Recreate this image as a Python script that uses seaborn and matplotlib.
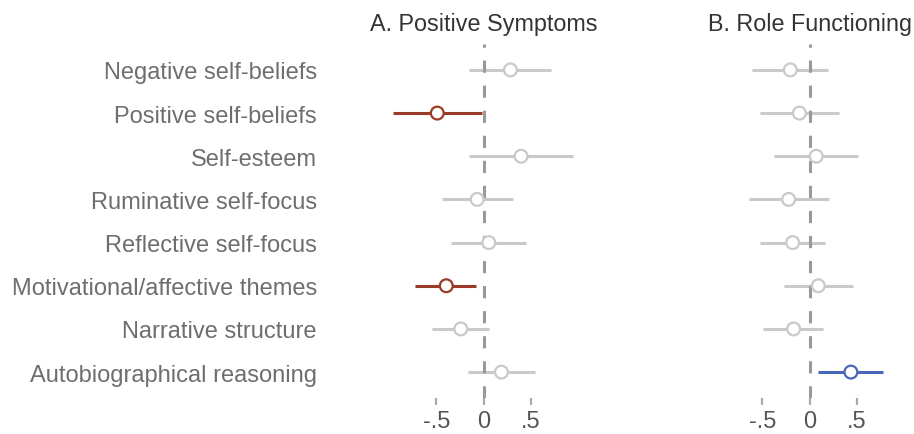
import matplotlib
matplotlib.use("Agg")
import matplotlib.pyplot as plt
import numpy as np
import pandas as pd
import seaborn as sns

# ---------------------------------------------------------------------------
# Data
# ---------------------------------------------------------------------------

predictors = [
    "Negative self-beliefs",
    "Positive self-beliefs",
    "Self-esteem",
    "Ruminative self-focus",
    "Reflective self-focus",
    "Motivational/affective themes",
    "Narrative structure",
    "Autobiographical reasoning",
]

# A. Positive Symptoms
pos_est = [0.285, -0.489, 0.398, -0.067, 0.056, -0.394, -0.240, 0.190]
pos_lo = [-0.155, -0.958, -0.155, -0.440, -0.340, -0.720, -0.549, -0.169]
pos_hi = [0.715, -0.018, 0.943, 0.310, 0.454, -0.077, 0.063, 0.542]
pos_sig = ["ns", "neg", "ns", "ns", "ns", "neg", "ns", "ns"]

# B. Role Functioning
role_est = [-0.203, -0.107, 0.071, -0.221, -0.178, 0.093, -0.168, 0.438]
role_lo = [-0.605, -0.523, -0.374, -0.637, -0.520, -0.274, -0.488, 0.089]
role_hi = [0.200, 0.313, 0.509, 0.206, 0.163, 0.462, 0.139, 0.776]
role_sig = ["ns", "ns", "ns", "ns", "ns", "ns", "ns", "pos"]

tick_vals = [-0.5, 0, 0.5]
tick_text = ["-.5", "0", ".5"]

sig_colors = {"ns": "#c9c9c9", "neg": "#9b3a26", "pos": "#4a66b8"}

# ---------------------------------------------------------------------------
# Figure
# ---------------------------------------------------------------------------

sns.set_style("white")
plt.rcParams["font.family"] = ["Liberation Sans", "DejaVu Sans"]

fig = plt.figure(figsize=(9.14, 4.35), dpi=100)
ax_a = fig.add_axes([389 / 914, 36 / 435, 189 / 914, 354 / 435])
ax_b = fig.add_axes([715 / 914, 36 / 435, 189 / 914, 354 / 435])

panels = [
    (ax_a, "A. Positive Symptoms", pos_est, pos_lo, pos_hi, pos_sig),
    (ax_b, "B. Role Functioning", role_est, role_lo, role_hi, role_sig),
]

for ax, title, est, lo, hi, sig in panels:
    df = pd.DataFrame({
        "predictor": predictors,
        "pos": np.arange(len(predictors)),
        "est": est,
        "lo": lo,
        "hi": hi,
        "sig": sig,
    })
    cols = [sig_colors[s] for s in df["sig"]]

    # confidence intervals
    ax.hlines(df["pos"], df["lo"], df["hi"], colors=cols, linewidth=2.2, zorder=2)

    # reference line at zero, drawn over the intervals
    ax.axvline(0, color="#999999", linewidth=2.2, dashes=(4, 4.2), zorder=3)

    # point estimates: hollow circles
    sns.scatterplot(data=df, x="est", y="pos", ax=ax, s=85, color="white",
                    edgecolor=cols, linewidth=1.6, zorder=4, legend=False)

    ax.set_xlim(-1, 1)
    ax.set_ylim(len(predictors) - 0.4, -0.6)
    ax.set_xticks(tick_vals)
    ax.set_xticklabels(tick_text)
    ax.set_xlabel("")
    ax.set_ylabel("")
    ax.set_title(title, fontsize=16.8, color="#333333", pad=10)
    sns.despine(ax=ax, left=True, bottom=True)
    ax.tick_params(axis="x", length=5, width=1.6, color="#aaaaaa",
                   labelsize=17, labelcolor="#555555", pad=4, bottom=True)

ax_a.set_yticks(np.arange(len(predictors)))
ax_a.set_yticklabels(predictors)
ax_a.tick_params(axis="y", length=0, labelsize=17, labelcolor="#6e6e6e", pad=52)
ax_b.set_yticks([])

fig.savefig("out.png", dpi=100)
